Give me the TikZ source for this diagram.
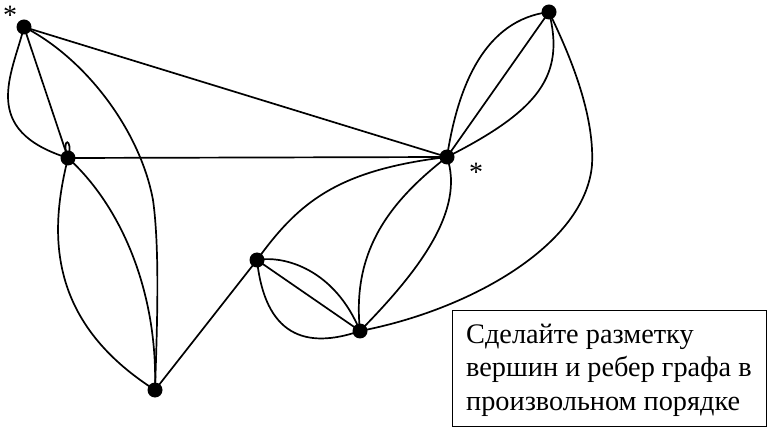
\documentclass[tikz,border=0pt]{standalone}
\usepackage{fontspec}
\setmainfont{LiberationSerif}[Extension=.ttf,UprightFont=*-Regular]
\newfontfamily\tnr{LiberationSerif}[Extension=.ttf,UprightFont=*-Regular]
\begin{document}
\begin{tikzpicture}[x=1pt,y=-1pt,
  vtx/.style={circle,fill=black,inner sep=0pt,minimum size=15pt},
  edge/.style={line width=1.7pt,black},
  star/.style={font=\tnr\fontsize{28}{30}\selectfont,inner sep=0pt,anchor=base},
  note/.style={draw,line width=1.2pt,inner sep=0pt,minimum width=314pt,minimum height=116pt,anchor=north west},
  notetext/.style={font=\tnr\fontsize{28.3}{33}\selectfont,inner sep=0pt,anchor=base west}]
\useasboundingbox (0,0) rectangle (768,427);
\coordinate (A) at (24,27);
\coordinate (B) at (68,158);
\coordinate (C) at (155,390);
\coordinate (D) at (257,260);
\coordinate (E) at (447,157);
\coordinate (F) at (549,12);
\coordinate (G) at (360,331);
% straight edges
\draw[edge] (A) -- (B);
\draw[edge] (A) -- (E);
\draw[edge] (B) -- (E);
\draw[edge] (C) -- (D);
\draw[edge] (D) -- (G);
\draw[edge] (E) -- (F);
% curved edges
\draw[edge] (A) .. controls (12,75) and (-21,130) .. (B);
\draw[edge] (A) .. controls (85,58) and (140,130) .. (153,200) .. controls (160,250) and (157,330) .. (C);
\draw[edge] (B) .. controls (50,230) and (45,320) .. (C);
\draw[edge] (B) .. controls (120,205) and (158,290) .. (C);
\draw[edge] (B) .. controls +(-8,-21) and +(6,-21) .. (B);
\draw[edge] (D) .. controls (300,200) and (340,170) .. (E);
\draw[edge] (D) .. controls (285,255) and (335,270) .. (G);
\draw[edge] (D) .. controls (265,335) and (305,350) .. (G);
\draw[edge] (G) .. controls (352,255) and (385,205) .. (E);
\draw[edge] (E) .. controls (465,210) and (420,270) .. (G);
\draw[edge] (G) .. controls (470,310) and (585,245) .. (592,165) .. controls (595,110) and (565,45) .. (F);
\draw[edge] (E) .. controls (458,85) and (485,20) .. (F);
\draw[edge] (F) .. controls (565,75) and (540,110) .. (E);
% vertices
\foreach \v in {A,B,C,D,E,F,G} \node[vtx] (n\v) at (\v) {};
% stars
\node[star] (sA) at (10,25) {*};
\node[star] (sE) at (476,182) {*};
% note box
\node[note] (box) at (452,310) {};
\node[notetext] (t1) at (466,344) {Сделайте разметку};
\node[notetext] (t2) at (466,377) {вершин и ребер графа в};
\node[notetext] (t3) at (466,410) {произвольном порядке};
\end{tikzpicture}
\end{document}
